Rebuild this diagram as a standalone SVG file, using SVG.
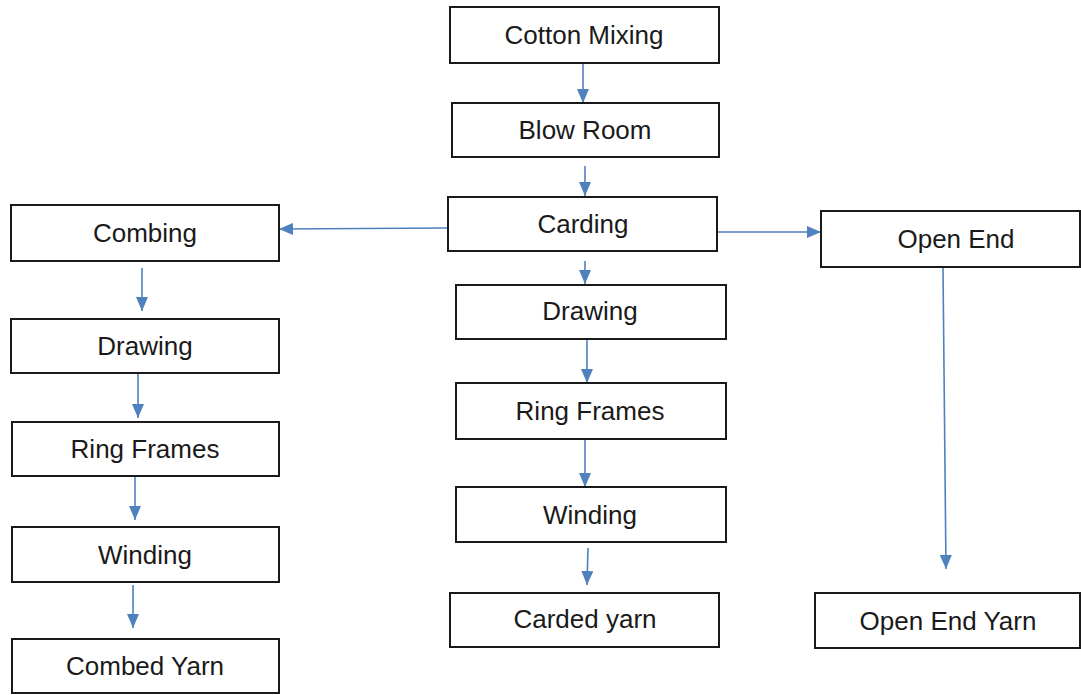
<svg xmlns="http://www.w3.org/2000/svg" width="1081" height="695" viewBox="0 0 1081 695">
<style>
.box{fill:#fff;stroke:#1a1a1a;stroke-width:2}
.lbl{font-family:"Liberation Sans",Arial,sans-serif;font-size:26px;fill:#1a1a1a;text-anchor:middle}
.conn{stroke:#4f81bd;stroke-width:1.6;fill:none}
</style>
<defs>
<marker id="ah" markerUnits="userSpaceOnUse" viewBox="0 0 14 12" markerWidth="14" markerHeight="12" refX="14" refY="6" orient="auto">
<path d="M0,0 L14,6 L0,12 z" fill="#4f81bd"/>
</marker>
</defs>
<rect width="1081" height="695" fill="#fff"/>
<g id="connectors">
<line class="conn" x1="583" y1="64" x2="583" y2="103" marker-end="url(#ah)"/>
<line class="conn" x1="585" y1="166" x2="585" y2="196" marker-end="url(#ah)"/>
<line class="conn" x1="448" y1="228" x2="279" y2="229" marker-end="url(#ah)"/>
<line class="conn" x1="717" y1="232" x2="821" y2="232" marker-end="url(#ah)"/>
<line class="conn" x1="585" y1="261" x2="585" y2="284" marker-end="url(#ah)"/>
<line class="conn" x1="587" y1="340" x2="587" y2="383" marker-end="url(#ah)"/>
<line class="conn" x1="585" y1="440" x2="585" y2="487" marker-end="url(#ah)"/>
<line class="conn" x1="588" y1="548" x2="587" y2="585" marker-end="url(#ah)"/>
<line class="conn" x1="142" y1="268" x2="142" y2="311" marker-end="url(#ah)"/>
<line class="conn" x1="138" y1="374" x2="138" y2="418" marker-end="url(#ah)"/>
<line class="conn" x1="135" y1="477" x2="135" y2="520" marker-end="url(#ah)"/>
<line class="conn" x1="133" y1="585" x2="133" y2="628" marker-end="url(#ah)"/>
<line class="conn" x1="943" y1="268" x2="946" y2="569" marker-end="url(#ah)"/>
</g>
<g id="cotton-mixing"><rect class="box" x="450" y="7" width="269" height="56"/><text class="lbl" x="584" y="44">Cotton Mixing</text></g>
<g id="blow-room"><rect class="box" x="452" y="103" width="267" height="54"/><text class="lbl" x="585" y="139">Blow Room</text></g>
<g id="carding"><rect class="box" x="448" y="197" width="269" height="54"/><text class="lbl" x="583" y="233">Carding</text></g>
<g id="combing"><rect class="box" x="11" y="205" width="268" height="56"/><text class="lbl" x="145" y="242">Combing</text></g>
<g id="drawing-left"><rect class="box" x="11" y="319" width="268" height="54"/><text class="lbl" x="145" y="355">Drawing</text></g>
<g id="ring-frames-left"><rect class="box" x="12" y="422" width="267" height="54"/><text class="lbl" x="145" y="458">Ring Frames</text></g>
<g id="winding-left"><rect class="box" x="12" y="527" width="267" height="55"/><text class="lbl" x="145" y="564">Winding</text></g>
<g id="combed-yarn"><rect class="box" x="12" y="639" width="267" height="54"/><text class="lbl" x="145" y="675">Combed Yarn</text></g>
<g id="drawing-mid"><rect class="box" x="456" y="285" width="270" height="54"/><text class="lbl" x="590" y="320">Drawing</text></g>
<g id="ring-frames-mid"><rect class="box" x="456" y="383" width="270" height="56"/><text class="lbl" x="590" y="420">Ring Frames</text></g>
<g id="winding-mid"><rect class="box" x="456" y="487" width="270" height="55"/><text class="lbl" x="590" y="524">Winding</text></g>
<g id="carded-yarn"><rect class="box" x="450" y="593" width="269" height="54"/><text class="lbl" x="585" y="628">Carded yarn</text></g>
<g id="open-end"><rect class="box" x="821" y="211" width="259" height="56"/><text class="lbl" x="956" y="248">Open End</text></g>
<g id="open-end-yarn"><rect class="box" x="815" y="593" width="265" height="55"/><text class="lbl" x="948" y="630">Open End Yarn</text></g>
</svg>
